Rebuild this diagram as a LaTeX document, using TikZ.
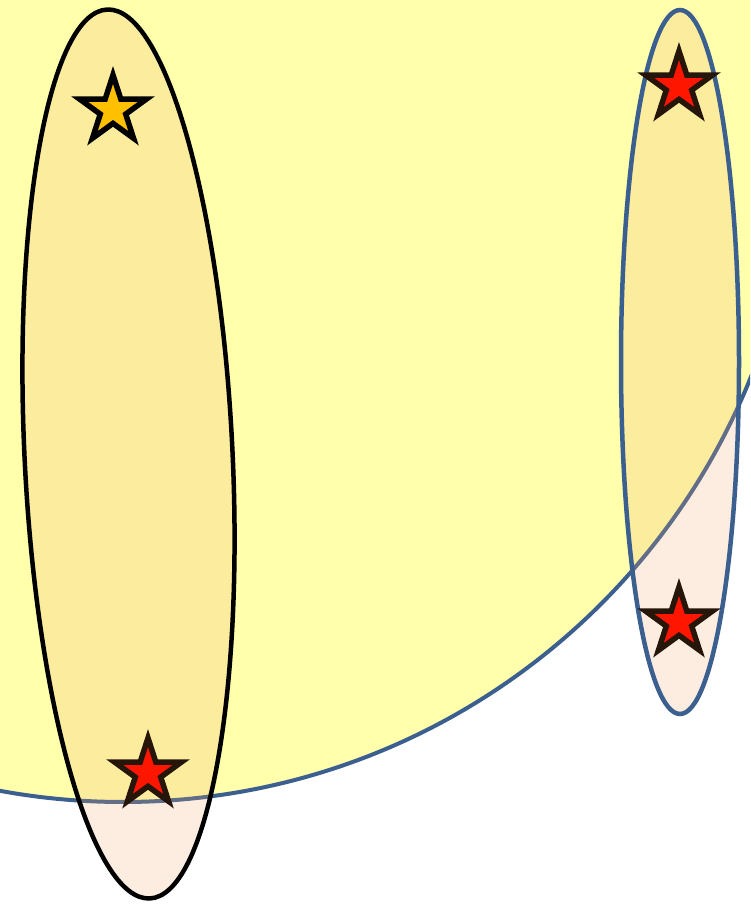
\documentclass[tikz,border=0pt]{standalone}
\usepackage{tikz}
\usetikzlibrary{shapes.geometric}
\definecolor{zoneblue}{RGB}{59,95,143}
\definecolor{zoneyellow}{RGB}{255,255,172}
\definecolor{overlay}{RGB}{245,169,107}
\definecolor{gold}{RGB}{255,192,0}
\definecolor{hotred}{RGB}{255,22,0}
\definecolor{darkline}{RGB}{38,21,9}
\tikzstyle{zone} = [circle, inner sep=0pt, minimum size=1352pt, line width=4pt, draw=zoneblue, fill=zoneyellow]
\tikzstyle{group} = [ellipse, inner sep=0pt, line width=4.5pt, fill=overlay, fill opacity=0.21]
\tikzstyle{pick} = [star, star points=5, star point ratio=2.618, minimum size=70pt, inner sep=0pt, line width=5.5pt, line join=miter]

\begin{document}
\begin{tikzpicture}[x=1pt, y=1pt]
  \useasboundingbox (0,0) rectangle (750,905);
  \clip (0,0) rectangle (750,905);
  \node[zone] (field) at (123,779) {};

  \node[group, draw=black, minimum width=208pt, minimum height=890pt, rotate=2.75] (left) at (128.5,451) {};
  \node[group, draw=zoneblue, minimum width=118pt, minimum height=704pt] (right) at (680,543) {};

  \node[pick, draw=black, fill=gold] (a) at (113,795) {};
  \node[pick, draw=darkline, fill=hotred] (b) at (148,132) {};
  \node[pick, draw=darkline, fill=hotred] (c) at (679,819) {};
  \node[pick, draw=darkline, fill=hotred] (d) at (679,283) {};
\end{tikzpicture}
\end{document}
